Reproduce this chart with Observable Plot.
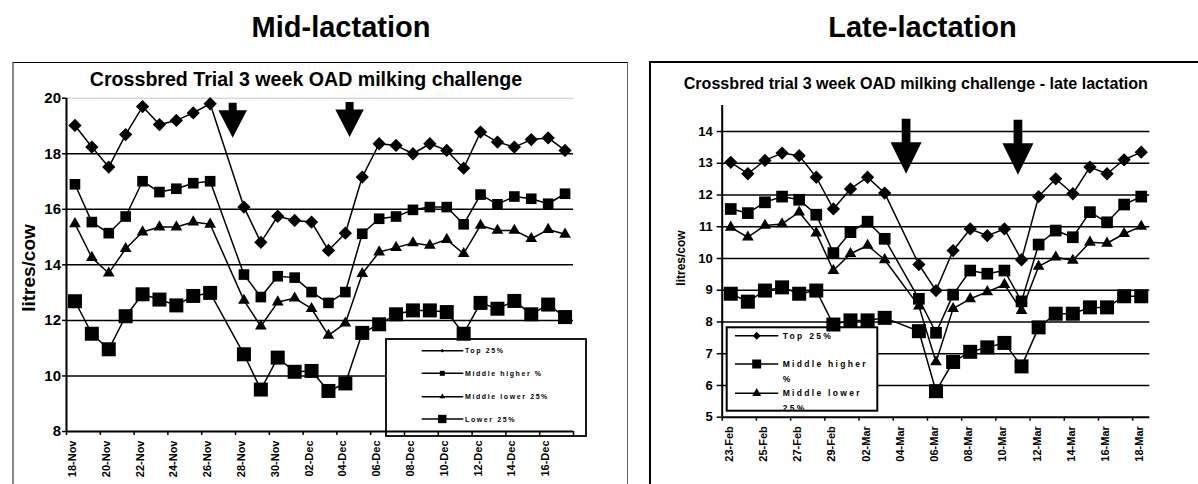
<!DOCTYPE html>
<html><head><meta charset="utf-8">
<script src="https://cdn.jsdelivr.net/npm/d3@7"></script>
<script src="https://cdn.jsdelivr.net/npm/@observablehq/plot@0.6"></script>
<style>
html,body{margin:0;padding:0;background:#fff;}
#wrap{position:relative;width:1198px;height:484px;overflow:hidden;font-family:"Liberation Sans",Arial,sans-serif;}
.frame{position:absolute;box-sizing:border-box;}
#frameL{left:12px;top:62px;width:616px;height:460px;border-top:1.5px solid #000;border-left:2px solid #8a8a8a;border-right:1px solid #666;}
#frameR{left:649px;top:61px;width:600px;height:460px;border-top:2px solid #000;border-left:2px solid #000;}
#plotL,#plotR,#overlay{position:absolute;top:0;}
#plotL{left:0;}
#plotR{left:640px;}
#overlay{left:0;pointer-events:none;}
</style></head>
<body><div id="wrap">
<div class="frame" id="frameL"></div>
<div class="frame" id="frameR"></div>
<div id="plotL"></div>
<div id="plotR"></div>
<svg id="overlay" width="1198" height="484"></svg>
</div>
<script>
// ---------- Mid-lactation data ----------
const midDates = ["2007-11-18","2007-11-19","2007-11-20","2007-11-21","2007-11-22","2007-11-23","2007-11-24","2007-11-25","2007-11-26",
  "2007-11-28","2007-11-29","2007-11-30","2007-12-01","2007-12-02","2007-12-03","2007-12-04","2007-12-05","2007-12-06","2007-12-07",
  "2007-12-08","2007-12-09","2007-12-10","2007-12-11","2007-12-12","2007-12-13","2007-12-14","2007-12-15","2007-12-16","2007-12-17"];
const midTop    = [19.02,18.24,17.52,18.69,19.70,19.05,19.20,19.47,19.80, 16.08,14.81,15.75,15.60,15.54,14.52,15.14,17.16,18.36,18.30,18.00,18.36,18.12,17.48,18.78,18.42,18.24,18.51,18.57,18.12];
const midHigher = [16.90,15.54,15.14,15.74,17.01,16.62,16.74,16.94,17.01, 13.65,12.84,13.59,13.54,13.02,12.63,13.02,15.12,15.66,15.74,15.98,16.08,16.08,15.46,16.53,16.18,16.46,16.38,16.20,16.56];
const midLower  = [15.48,14.26,13.70,14.58,15.18,15.36,15.36,15.54,15.46, 12.72,11.79,12.66,12.80,12.42,11.46,11.90,13.68,14.46,14.62,14.79,14.70,14.91,14.40,15.42,15.24,15.24,14.94,15.27,15.10];
const midBottom = [12.69,11.52,10.96,12.15,12.94,12.75,12.54,12.88,12.99, 10.78, 9.51,10.66,10.15,10.18, 9.46, 9.73,11.55,11.86,12.22,12.36,12.36,12.30,11.52,12.63,12.42,12.70,12.22,12.57,12.12];
const midDomain = ["2007-11-18","2007-12-18"];
const midTickDates  = ["2007-11-18","2007-11-20","2007-11-22","2007-11-24","2007-11-26","2007-11-28","2007-11-30","2007-12-02","2007-12-04","2007-12-06","2007-12-08","2007-12-10","2007-12-12","2007-12-14","2007-12-16","2007-12-18"];
const midTickLabels = ["18-Nov","20-Nov","22-Nov","24-Nov","26-Nov","28-Nov","30-Nov","02-Dec","04-Dec","06-Dec","08-Dec","10-Dec","12-Dec","14-Dec","16-Dec",""];
const midYTicks = [8,10,12,14,16,18,20];
const midGrid = [10,12,14,16,18];
const midArrowDates = ["2007-11-27T20:00Z","2007-12-04T18:00Z"];
const midArrowValues = [19.84,19.86];

// ---------- Late-lactation data ----------
const lateDates = ["2008-02-23","2008-02-24","2008-02-25","2008-02-26","2008-02-27","2008-02-28","2008-02-29","2008-03-01","2008-03-02","2008-03-03",
  "2008-03-05","2008-03-06","2008-03-07","2008-03-08","2008-03-09","2008-03-10","2008-03-11","2008-03-12","2008-03-13","2008-03-14","2008-03-15","2008-03-16","2008-03-17","2008-03-18"];
const lateTop    = [13.03,12.67,13.09,13.32,13.24,12.56,11.56,12.19,12.56,12.06, 9.81,8.99,10.25,10.93,10.72,10.93,9.96,11.95,12.51,12.04,12.88,12.67,13.11,13.35];
const lateHigher = [11.56,11.43,11.77,11.95,11.85,11.38,10.17,10.83,11.16,10.62, 8.73,7.66,8.86,9.62,9.52,9.62,8.65,10.44,10.88,10.67,11.46,11.14,11.70,11.95];
const lateLower  = [10.98,10.67,11.04,11.09,11.46,10.80,9.62,10.15,10.41,9.96, 8.50,6.74,8.42,8.73,8.95,9.18,8.36,9.75,10.04,9.94,10.51,10.48,10.78,11.01];
const lateBottom = [8.89,8.64,8.99,9.09,8.89,8.99,7.92,8.05,8.05,8.13, 7.71,5.82,6.74,7.06,7.20,7.34,6.60,7.83,8.26,8.26,8.46,8.46,8.81,8.81];
const lateDomain = ["2008-02-23","2008-03-19"];
const lateTickDates  = ["2008-02-23","2008-02-25","2008-02-27","2008-02-29","2008-03-02","2008-03-04","2008-03-06","2008-03-08","2008-03-10","2008-03-12","2008-03-14","2008-03-16","2008-03-18"];
const lateTickLabels = ["23-Feb","25-Feb","27-Feb","29-Feb","02-Mar","04-Mar","06-Mar","08-Mar","10-Mar","12-Mar","14-Mar","16-Mar","18-Mar"];
const lateYTicks = [5,6,7,8,9,10,11,12,13,14];
const lateGrid = [6,7,8,9,10,11,12,13,14];
const lateArrowDates = ["2008-03-04T18:00Z","2008-03-11T07:00Z"];
const lateArrowValues = [14.40,14.37];

const seriesNames = ["Top 25%","Middle higher %","Middle lower 25%","Lower 25%"];

// ---------- helpers ----------
const FONT = "'Liberation Sans', Arial, sans-serif";
const noon = s => d3.utcHour.offset(new Date(s), 12);

function arrowSymbol(stemW, stemH, headW, headH) {
  return {draw(ctx) {
    ctx.moveTo(-stemW/2, 0); ctx.lineTo(stemW/2, 0); ctx.lineTo(stemW/2, stemH);
    ctx.lineTo(headW/2, stemH); ctx.lineTo(0, stemH + headH); ctx.lineTo(-headW/2, stemH);
    ctx.lineTo(-stemW/2, stemH); ctx.closePath();
  }};
}

function legendMark(L) {
  return () => {
    const g = d3.create("svg:g");
    const id = "clip-" + L.id;
    g.append("clipPath").attr("id", id).append("rect")
      .attr("x", L.x0).attr("y", L.y0).attr("width", L.x1 - L.x0).attr("height", L.y1 - L.y0);
    g.append("rect").attr("x", L.x0).attr("y", L.y0).attr("width", L.x1 - L.x0).attr("height", L.y1 - L.y0)
      .attr("fill", "white").attr("stroke", "black").attr("stroke-width", L.border);
    const inner = g.append("g").attr("clip-path", `url(#${id})`);
    L.entries.forEach((e, i) => {
      const y = L.ys[i];
      inner.append("line").attr("x1", L.lx0).attr("x2", L.lx1).attr("y1", y).attr("y2", y)
        .attr("stroke", "black").attr("stroke-width", 1.5);
      inner.append("path").attr("d", d3.symbol(e.symbol, e.size)())
        .attr("transform", `translate(${L.mx},${y}) rotate(${e.rotate || 0})`).attr("fill", "black");
      e.lines.forEach((t, j) => {
        inner.append("text").attr("x", L.tx).attr("y", y + j * L.lineGap).attr("dy", "0.36em")
          .attr("text-anchor", "start").style("text-anchor", "start")
          .attr("font-size", L.fontSize).attr("font-weight", "bold").attr("letter-spacing", L.spacing)
          .attr("font-family", FONT).attr("fill", "black").text(t);
      });
    });
    return g.node();
  };
}

function buildChart(c) {
  const rows = [];
  c.series.forEach(s => s.values.forEach((v, i) => rows.push({series: s.name, date: noon(c.dates[i]), value: v})));
  const tickDates = c.tickDates.map(d => new Date(d));
  const labelMap = new Map(tickDates.map((d, i) => [+d, c.tickLabels[i]]));
  const arrows = c.arrowDates.map((d, i) => ({date: new Date(d), value: c.arrowValues[i]}));
  const dots = c.series.map(s => Plot.dot(rows.filter(r => r.series === s.name), {
    x: "date", y: "value", symbol: s.style.symbol, r: s.style.r, rotate: s.style.rotate || 0,
    fill: "black", stroke: "none"
  }));
  return Plot.plot({
    width: c.width, height: c.height,
    marginLeft: c.margin[3], marginRight: c.margin[1], marginTop: c.margin[0], marginBottom: c.margin[2],
    style: {background: "transparent", fontFamily: FONT, fontWeight: "bold", color: "black", overflow: "visible"},
    x: {type: "utc", domain: c.domain.map(d => new Date(d))},
    y: {domain: c.yDomain},
    marks: [
      Plot.ruleY(c.grid, {stroke: "black", strokeWidth: 1.5}),
      ...(c.topGrid ? [Plot.ruleY(c.topGrid, {stroke: "#c4c4c4", strokeWidth: 1})] : []),
      legendMark(c.legend),
      Plot.axisY({ticks: c.yTicks, tickSize: c.yTickSize, tickPadding: c.yTickPadding, fontSize: c.yFont, strokeWidth: 1.5, label: null, tickFormat: d => String(d)}),
      Plot.axisX({ticks: tickDates, tickSize: 4, fill: "none", strokeWidth: 1.5, label: null}),
      Plot.axisX({ticks: tickDates, tickSize: 4, tickPadding: 5, stroke: "none", tickRotate: -90, dx: c.labelDx,
        fontSize: c.xFont, label: null, tickFormat: d => labelMap.get(+d) ?? ""}),
      Plot.ruleX([new Date(c.domain[0])], {stroke: "black", strokeWidth: 2}),
      Plot.ruleY([c.yDomain[0]], {stroke: "black", strokeWidth: 2}),
      Plot.line(rows, {x: "date", y: "value", z: "series", stroke: "black", strokeWidth: 1.5}),
      ...dots,
      Plot.dot(arrows, {x: "date", y: "value", symbol: c.arrow, r: 1, fill: "black", stroke: "none"})
    ]
  });
}

// ---------- Left chart ----------
const left = buildChart({
  width: 630, height: 484, margin: [97.7, 57, 53, 66],
  dates: midDates, domain: midDomain, yDomain: [8, 20],
  series: [
    {name: seriesNames[0], values: midTop,    style: {symbol: "square", r: 5.3, rotate: 45}},
    {name: seriesNames[1], values: midHigher, style: {symbol: "square", r: 6.0}},
    {name: seriesNames[2], values: midLower,  style: {symbol: "triangle", r: 4.35}},
    {name: seriesNames[3], values: midBottom, style: {symbol: "square", r: 7.9}}
  ],
  tickDates: midTickDates, tickLabels: midTickLabels, yTicks: midYTicks, grid: midGrid, topGrid: [20],
  yTickSize: 4, yTickPadding: 1.5, yFont: 15, xFont: 11, labelDx: 6,
  arrowDates: midArrowDates, arrowValues: midArrowValues, arrow: arrowSymbol(8, 7.5, 28.5, 27.5),
  legend: {id: "L", x0: 386, x1: 586, y0: 339, y1: 436, border: 1.8, ys: [350.7, 373.3, 396.7, 419],
    lx0: 421.7, lx1: 463.3, mx: 442.3, tx: 465, fontSize: 7, spacing: 1.6, lineGap: 10,
    entries: [
      {symbol: d3.symbolSquare, size: 7, rotate: 45, lines: [seriesNames[0]]},
      {symbol: d3.symbolSquare, size: 25, lines: [seriesNames[1]]},
      {symbol: d3.symbolTriangle, size: 14, lines: [seriesNames[2]]},
      {symbol: d3.symbolSquare, size: 70, lines: [seriesNames[3]]}
    ]}
});
document.getElementById("plotL").append(left);

// ---------- Right chart ----------
const right = buildChart({
  width: 558, height: 484, margin: [105, 48.7, 67.3, 81.7],
  dates: lateDates, domain: lateDomain, yDomain: [5, 14.82],
  series: [
    {name: seriesNames[0], values: lateTop,    style: {symbol: "square", r: 5.3, rotate: 45}},
    {name: seriesNames[1], values: lateHigher, style: {symbol: "square", r: 6.6}},
    {name: seriesNames[2], values: lateLower,  style: {symbol: "triangle", r: 4.35}},
    {name: seriesNames[3], values: lateBottom, style: {symbol: "square", r: 7.9}}
  ],
  tickDates: lateTickDates, tickLabels: lateTickLabels, yTicks: lateYTicks, grid: lateGrid, topGrid: null,
  yTickSize: 5, yTickPadding: 4.5, yFont: 13, xFont: 11, labelDx: 7,
  arrowDates: lateArrowDates, arrowValues: lateArrowValues, arrow: arrowSymbol(8.7, 23.4, 31, 31.6),
  legend: {id: "R", x0: 86.7, x1: 237.3, y0: 327.3, y1: 410.7, border: 2, ys: [335.7, 364, 393.3, 421.6],
    lx0: 95, lx1: 138.3, mx: 116.7, tx: 142.7, fontSize: 8.5, spacing: 2.3, lineGap: 14.5,
    entries: [
      {symbol: d3.symbolSquare, size: 32, rotate: 45, lines: [seriesNames[0]]},
      {symbol: d3.symbolSquare, size: 81, lines: ["Middle higher", "%"]},
      {symbol: d3.symbolTriangle, size: 35, lines: ["Middle lower", "25%"]},
      {symbol: d3.symbolSquare, size: 81, lines: [seriesNames[3]]}
    ]}
});
document.getElementById("plotR").append(right);

// ---------- Titles and labels ----------
const ov = d3.select("#overlay").attr("font-family", FONT).attr("font-weight", "bold");
const texts = [
  {t: "Mid-lactation", x: 341, y: 36.7, s: 29},
  {t: "Late-lactation", x: 922.5, y: 37.3, s: 29},
  {t: "Crossbred Trial 3 week OAD milking challenge", x: 306, y: 86, s: 19.6},
  {t: "Crossbred trial 3 week OAD milking challenge - late lactation", x: 915.8, y: 89.3, s: 16.1}
];
texts.forEach(d => ov.append("text").attr("x", d.x).attr("y", d.y).attr("text-anchor", "middle")
  .attr("font-size", d.s).attr("fill", "black").text(d.t));
[{x: 35, y: 268, s: 19}, {x: 685, y: 258, s: 12}].forEach(d =>
  ov.append("text").attr("transform", `translate(${d.x},${d.y}) rotate(-90)`).attr("text-anchor", "middle")
    .attr("font-size", d.s).attr("fill", "black").text("litres/cow"));
</script>
</body></html>
